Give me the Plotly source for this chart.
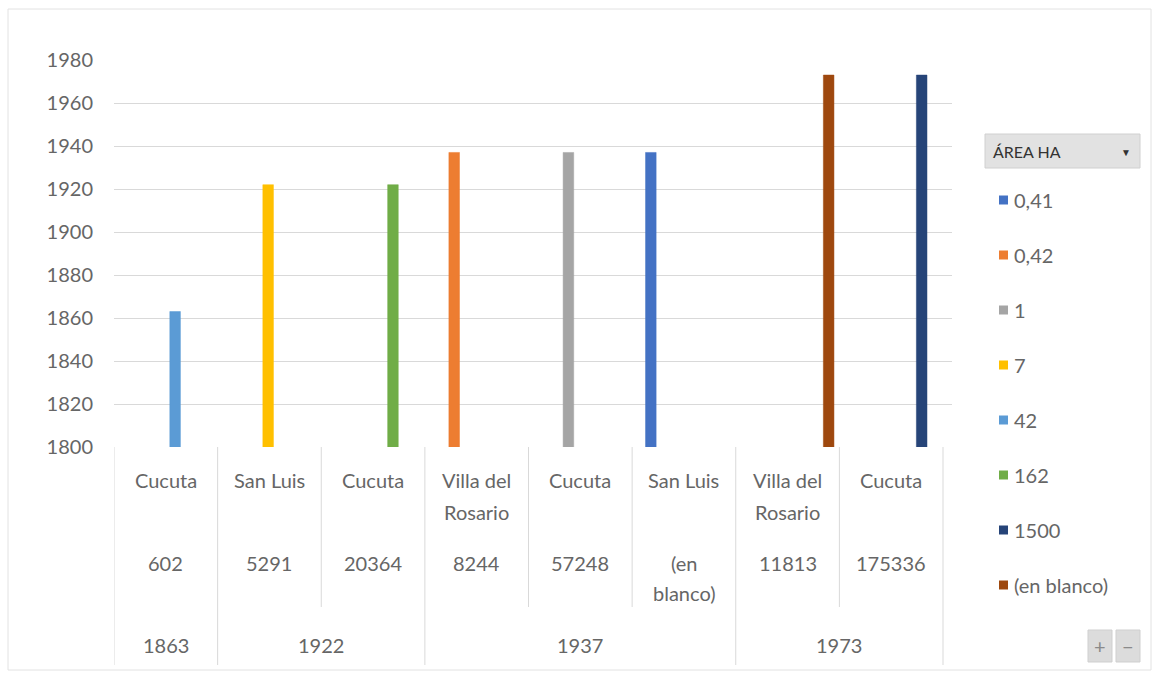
import plotly.graph_objects as go

# ---------------- data ----------------
cities = ["Cucuta", "San Luis", "Cucuta", "Villa del Rosario", "Cucuta",
          "San Luis", "Villa del Rosario", "Cucuta"]
populations = ["602", "5291", "20364", "8244", "57248", "(en blanco)", "11813", "175336"]
years = [1863, 1922, 1922, 1937, 1937, 1937, 1973, 1973]
area_of_category = ["42", "7", "162", "0,42", "1", "0,41", "(en blanco)", "1500"]
bar_values = [1863, 1922, 1922, 1937, 1937, 1937, 1973, 1973]
series_names = ["0,41", "0,42", "1", "7", "42", "162", "1500", "(en blanco)"]
series_colors = ["#4472C4", "#ED7D31", "#A5A5A5", "#FFC000", "#5B9BD5",
                 "#70AD47", "#264478", "#9E480E"]
y_ticks = [1800, 1820, 1840, 1860, 1880, 1900, 1920, 1940, 1960, 1980]
legend_title = "ÁREA HA"

# ---------------- geometry ----------------
W, H = 1160, 677
PL, PR, PT, PB = 114, 952, 60, 447
TABLE_RIGHT = 943
n = len(cities)
cat_w = (TABLE_RIGHT - PL) / n
x_range = [-0.5, -0.5 + (PR - PL) / cat_w]
BAR_W = 10.6 / cat_w          # bar width in category units
BAR_SHIFT = 4 / cat_w         # Excel draws the cluster slightly right of centre

FONT = "Lato, Carlito, Calibri, sans-serif"
TXT = "#666666"
LINE = "#d9d9d9"
FS = 20


def fx(px):
    return (px - PL) / (PR - PL)


def fy(py):
    return (PB - py) / (PB - PT)


def wrap(s, maxlen=9):
    if len(s) > maxlen and " " in s:
        i = s.rfind(" ")
        return [s[:i], s[i + 1:]]
    return [s]


fig = go.Figure()
ns = len(series_names)
for j, (name, color) in enumerate(zip(series_names, series_colors)):
    yv = [v if a == name else None for v, a in zip(bar_values, area_of_category)]
    fig.add_trace(go.Bar(
        x=list(range(n)), y=yv, name=name, showlegend=False,
        width=BAR_W, offset=(j - ns / 2) * BAR_W + BAR_SHIFT,
        marker=dict(color=color, line=dict(color=color, width=0.5)),
    ))

shapes = []
annotations = []


def label(x, y, text, xref="paper", xanchor="center", size=FS, color=TXT):
    annotations.append(dict(x=x, y=y, xref=xref, yref="paper", text=text,
                            showarrow=False, xanchor=xanchor, yanchor="middle",
                            font=dict(family=FONT, size=size, color=color)))


# table vertical separators
for k in range(n + 1):
    full = k == 0 or k == n or years[k - 1] != years[k]
    shapes.append(dict(type="line", xref="x", yref="paper",
                       x0=k - 0.5, x1=k - 0.5, y0=fy(PB), y1=fy(665 if full else 607),
                       line=dict(color=LINE, width=1)))

# table text
for k in range(n):
    for j, line in enumerate(wrap(cities[k])):
        label(k, fy(480 + 32 * j), line, xref="x")
    for j, line in enumerate(wrap(populations[k], 6)):
        label(k, fy(563 + 30 * j), line, xref="x")
# year groups
start = 0
for k in range(1, n + 1):
    if k == n or years[k] != years[start]:
        label((start + k - 1) / 2, fy(645), str(years[start]), xref="x")
        start = k

# legend title box
shapes.append(dict(type="rect", xref="paper", yref="paper",
                   x0=fx(985), x1=fx(1140), y0=fy(168), y1=fy(134),
                   fillcolor="#e2e2e2", line=dict(color="#d0d0d0", width=1)))
label(fx(991), fy(151), legend_title, xanchor="left", size=16, color="#333333")
label(fx(1126), fy(152), "▼", size=10, color="#333333")

# manual legend
for i, (name, color) in enumerate(zip(series_names, series_colors)):
    cy = 200 + 55 * i
    shapes.append(dict(type="rect", xref="paper", yref="paper",
                       x0=fx(999), x1=fx(1008), y0=fy(cy + 4.5), y1=fy(cy - 4.5),
                       fillcolor=color, line=dict(width=0)))
    label(fx(1012), fy(cy), name, xanchor="left")

# +/- buttons
for (x0, x1, t) in [(1088, 1112, "+"), (1116, 1140, "−")]:
    shapes.append(dict(type="rect", xref="paper", yref="paper",
                       x0=fx(x0), x1=fx(x1), y0=fy(662), y1=fy(630),
                       fillcolor="#dcdcdc", line=dict(color="#cfcfcf", width=1)))
    label(fx((x0 + x1) / 2), fy(646), t, size=20, color="#8a8a8a")

# chart border
shapes.append(dict(type="rect", xref="paper", yref="paper",
                   x0=fx(8), x1=fx(1151), y0=fy(670), y1=fy(9),
                   line=dict(color="#e2e2e2", width=1), fillcolor="rgba(0,0,0,0)"))

fig.update_layout(
    width=W, height=H,
    margin=dict(l=PL, r=W - PR, t=PT, b=H - PB),
    paper_bgcolor="white", plot_bgcolor="white",
    font=dict(family=FONT, color=TXT),
    barmode="overlay",
    showlegend=False,
    xaxis=dict(range=x_range, showticklabels=False, showgrid=False,
               zeroline=False, showline=False, ticks=""),
    yaxis=dict(range=[1800, 1980], tickvals=y_ticks, showgrid=True,
               gridcolor=LINE, gridwidth=1, zeroline=False, showline=False,
               ticks="", ticklabelstandoff=20,
               tickfont=dict(family=FONT, size=FS, color=TXT)),
    shapes=shapes, annotations=annotations,
)

fig.write_html("out.html", config={"displayModeBar": False},
               post_script="document.body.style.margin='0';document.body.style.overflow='hidden';")
